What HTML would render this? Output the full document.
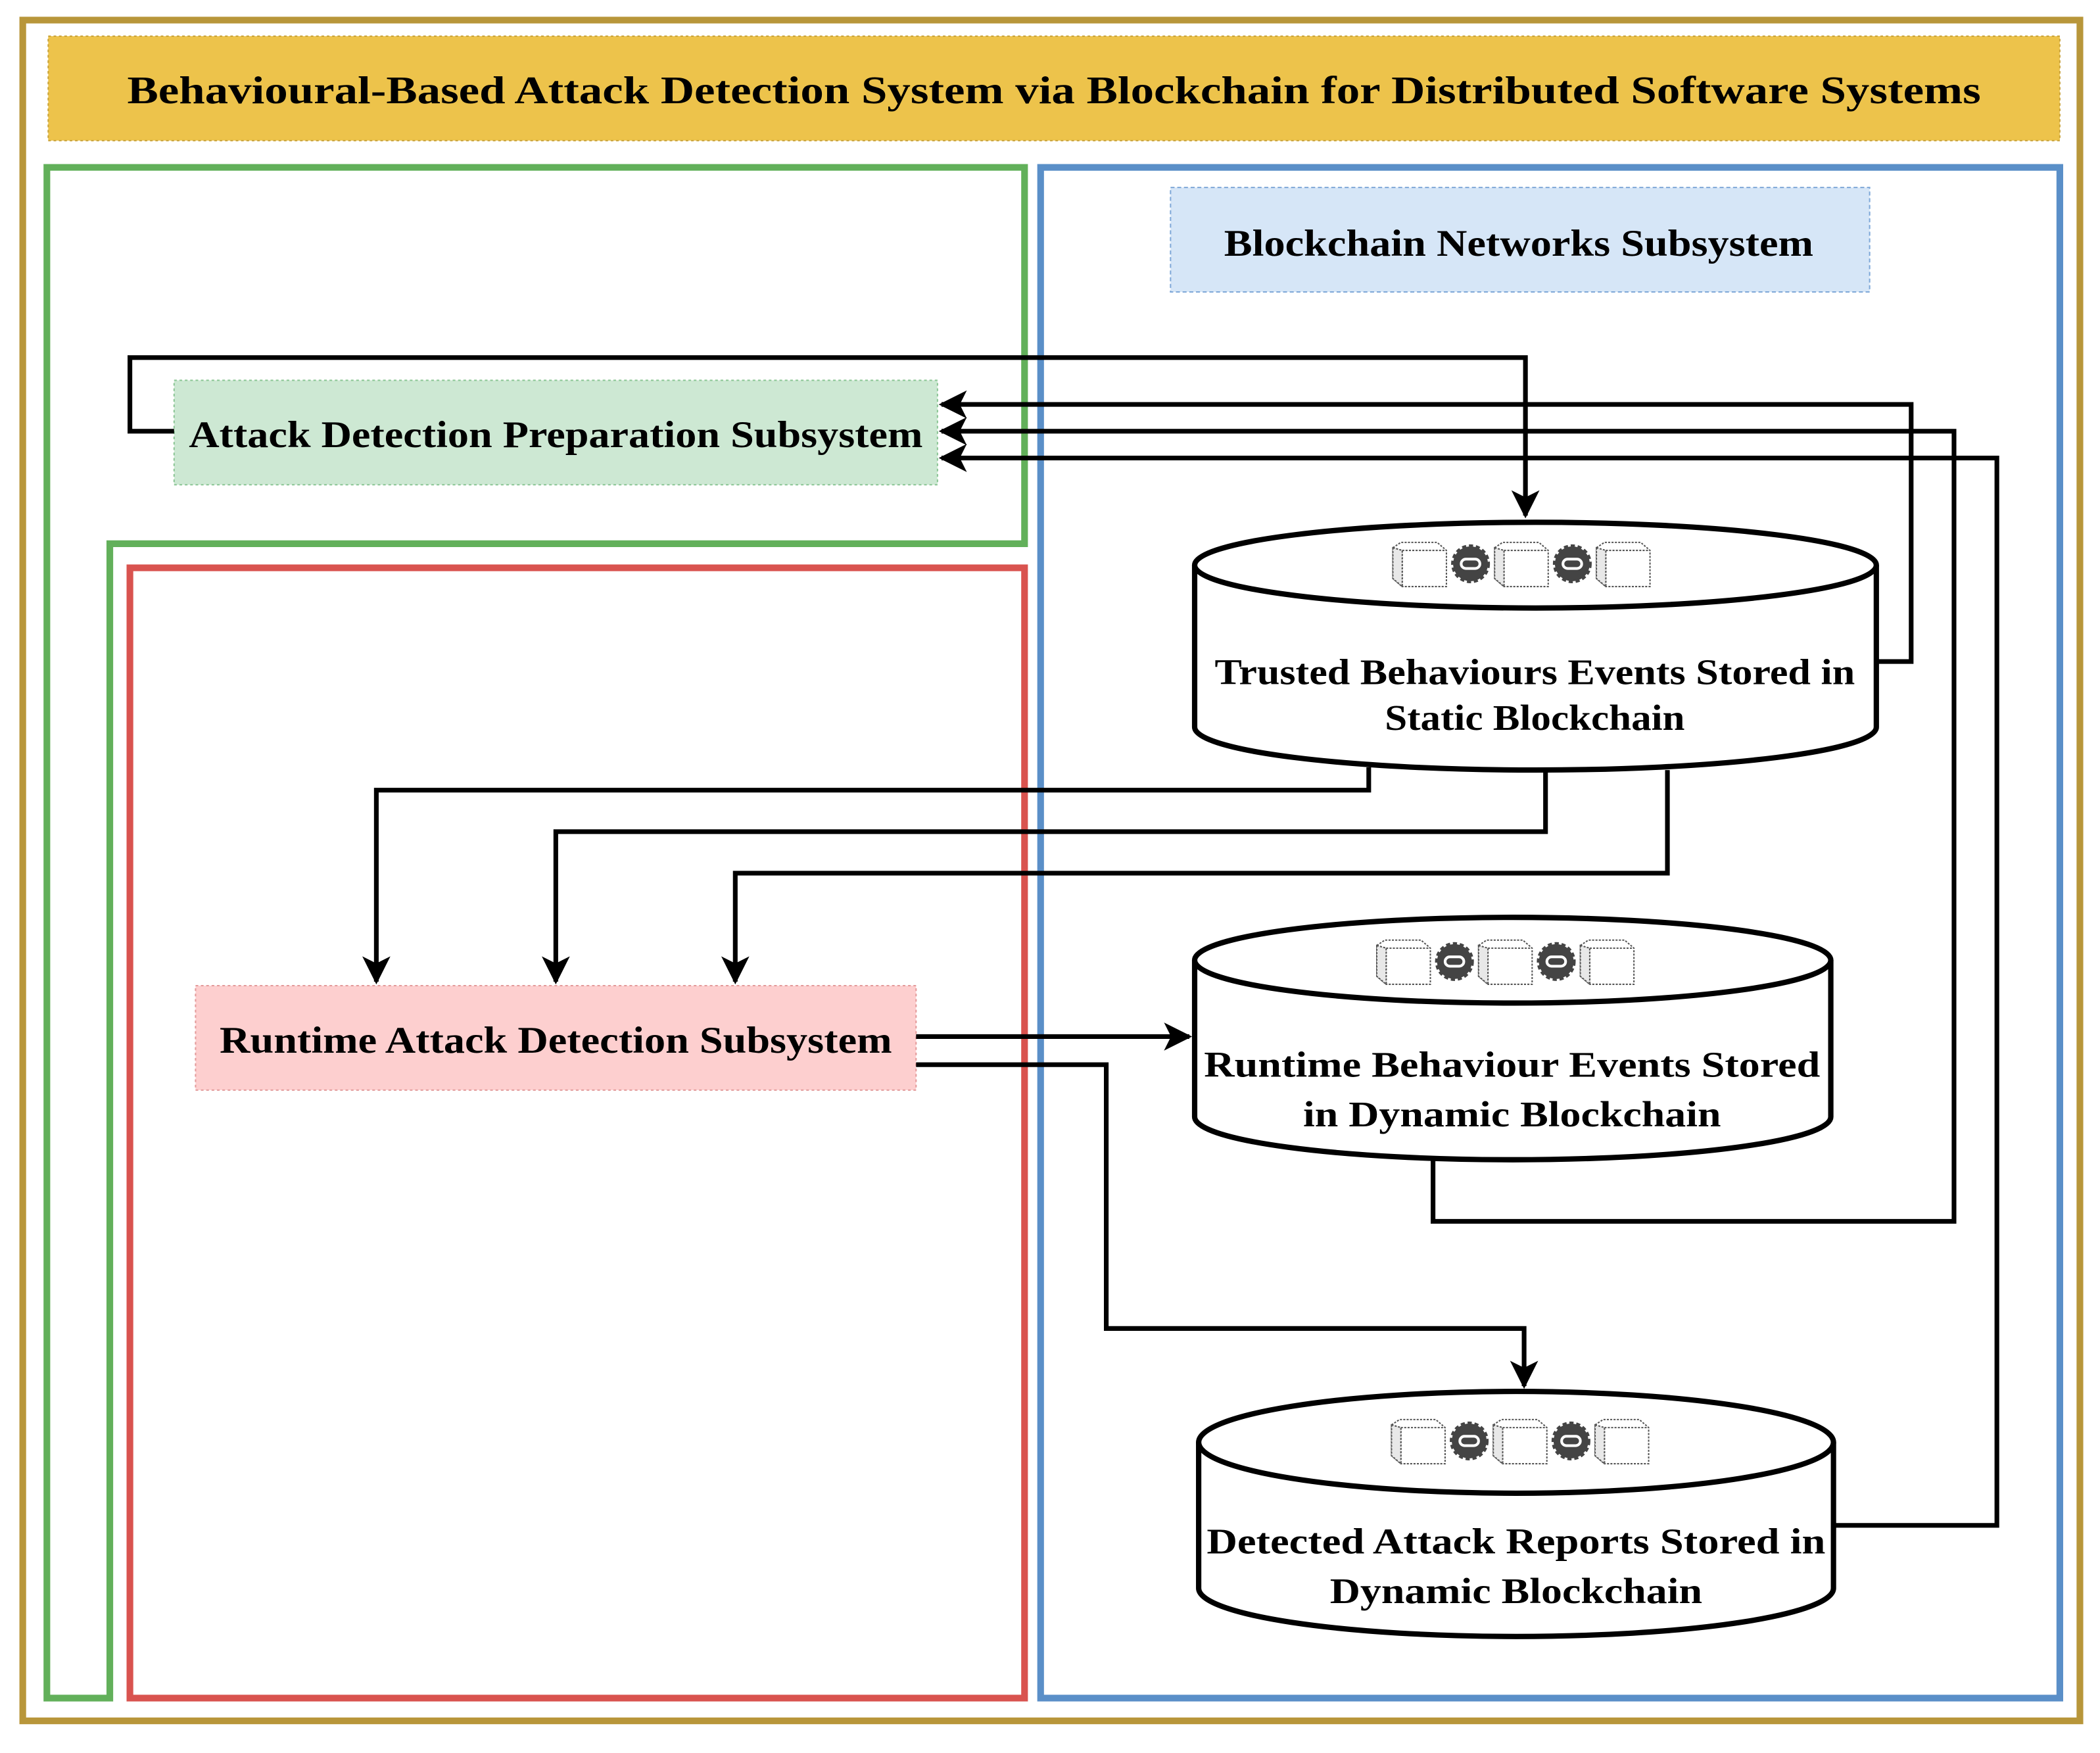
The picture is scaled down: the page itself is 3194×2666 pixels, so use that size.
<!DOCTYPE html>
<html><head><meta charset="utf-8"><style>html,body{margin:0;padding:0;background:#fff}svg{display:block}</style></head>
<body>
<svg width="3194" height="2666" viewBox="0 0 1568 1309" preserveAspectRatio="none" xmlns="http://www.w3.org/2000/svg" font-family="'Liberation Serif', serif" font-weight="bold">
<defs>
<marker id="ar" viewBox="0 0 20 20" refX="18" refY="10" markerWidth="6" markerHeight="6" markerUnits="strokeWidth" orient="auto">
<path d="M0,0 L20,10 L0,20 L5,10 Z" fill="#000"/>
</marker>
<g id="chain">
<g fill="#fff" stroke="#555" stroke-width="1" stroke-dasharray="1.5,1">
<path d="M0,4 L6,0 L33,0 L40,6 L40,33 L7,33 L0,27 Z"/>
<path d="M7,6 L40,6 M7,6 L7,33 M0,4 L7,6" fill="none"/>
<path d="M0,4 L7,6 L7,33 L0,27 Z" fill="#e8e8e8"/>
</g>
<g transform="translate(58,16)"><circle r="13" fill="#444" stroke="#444" stroke-width="3" stroke-dasharray="3,2"/><rect x="-7" y="-3.5" width="14" height="7" rx="3.5" fill="none" stroke="#fff" stroke-width="2"/></g>
<g transform="translate(76,0)" fill="#fff" stroke="#555" stroke-width="1" stroke-dasharray="1.5,1">
<path d="M0,4 L6,0 L33,0 L40,6 L40,33 L7,33 L0,27 Z"/>
<path d="M7,6 L40,6 M7,6 L7,33" fill="none"/>
<path d="M0,4 L7,6 L7,33 L0,27 Z" fill="#e8e8e8"/>
</g>
<g transform="translate(134,16)"><circle r="13" fill="#444" stroke="#444" stroke-width="3" stroke-dasharray="3,2"/><rect x="-7" y="-3.5" width="14" height="7" rx="3.5" fill="none" stroke="#fff" stroke-width="2"/></g>
<g transform="translate(152,0)" fill="#fff" stroke="#555" stroke-width="1" stroke-dasharray="1.5,1">
<path d="M0,4 L6,0 L33,0 L40,6 L40,33 L7,33 L0,27 Z"/>
<path d="M7,6 L40,6 M7,6 L7,33" fill="none"/>
<path d="M0,4 L7,6 L7,33 L0,27 Z" fill="#e8e8e8"/>
</g>
</g>
</defs>
<rect x="17" y="15" width="1536" height="1270" fill="none" stroke="#b8963a" stroke-width="5"/>
<rect x="36" y="27" width="1502" height="78" fill="#edc34b" stroke="#c9a33a" stroke-width="1" stroke-dasharray="2,2"/>
<text x="787" y="77" font-size="29" text-anchor="middle" textLength="1384" lengthAdjust="spacingAndGlyphs">Behavioural-Based Attack Detection System via Blockchain for Distributed Software Systems</text>
<path d="M35,125 L765,125 L765,406 L82,406 L82,1268 L35,1268 Z" fill="none" stroke="#62b05a" stroke-width="5"/>
<rect x="97" y="424" width="668" height="844" fill="none" stroke="#d9534f" stroke-width="5"/>
<rect x="777" y="125" width="761" height="1143" fill="none" stroke="#5a8fc8" stroke-width="5"/>
<rect x="874" y="140" width="522" height="78" fill="#d6e6f7" stroke="#7fa8d8" stroke-width="1" stroke-dasharray="3,2"/>
<text x="1134" y="191" font-size="28" text-anchor="middle" textLength="440" lengthAdjust="spacingAndGlyphs">Blockchain Networks Subsystem</text>
<rect x="130" y="284" width="570" height="78" fill="#cde8d3" stroke="#8ac594" stroke-width="1" stroke-dasharray="2,2"/>
<text x="415" y="334" font-size="28" text-anchor="middle" textLength="548" lengthAdjust="spacingAndGlyphs">Attack Detection Preparation Subsystem</text>
<rect x="146" y="736" width="538" height="78" fill="#fdcfcf" stroke="#e39a9a" stroke-width="1" stroke-dasharray="2,2"/>
<text x="415" y="786" font-size="28" text-anchor="middle" textLength="502" lengthAdjust="spacingAndGlyphs">Runtime Attack Detection Subsystem</text>
<g fill="none" stroke="#000" stroke-width="3.5">
<polyline points="130,322 97,322 97,267 1139,267 1139,385" marker-end="url(#ar)"/>
<polyline points="1401,494 1427,494 1427,302 703,302" marker-end="url(#ar)"/>
<polyline points="1070,866 1070,912 1459,912 1459,322 703,322" marker-end="url(#ar)"/>
<polyline points="1369,1139 1491,1139 1491,342 703,342" marker-end="url(#ar)"/>
<polyline points="1022,573 1022,590 281,590 281,733" marker-end="url(#ar)"/>
<polyline points="1154,574 1154,621 415,621 415,733" marker-end="url(#ar)"/>
<polyline points="1245,575 1245,652 549,652 549,733" marker-end="url(#ar)"/>
<polyline points="684,774 888,774" marker-end="url(#ar)"/>
<polyline points="684,795 826,795 826,992 1138,992 1138,1035" marker-end="url(#ar)"/>
</g>
<g stroke="#000" stroke-width="4" fill="#fff">
<path d="M892,422 L892,543 A254.5,32 0 0 0 1401,543 L1401,422"/>
<ellipse cx="1146.5" cy="422" rx="254.5" ry="32"/>
<path d="M892,717 L892,834 A237.5,32 0 0 0 1367,834 L1367,717"/>
<ellipse cx="1129.5" cy="717" rx="237.5" ry="32"/>
<path d="M895,1077 L895,1186 A237,36 0 0 0 1369,1186 L1369,1077"/>
<ellipse cx="1132" cy="1077" rx="237" ry="38"/>
</g>
<use href="#chain" x="1040" y="405"/>
<use href="#chain" x="1028" y="702"/>
<use href="#chain" x="1039" y="1060"/>
<g font-size="27" text-anchor="middle">
<text x="1146" y="511" textLength="478" lengthAdjust="spacingAndGlyphs">Trusted  Behaviours Events Stored in</text>
<text x="1146" y="545" textLength="224" lengthAdjust="spacingAndGlyphs">Static Blockchain</text>
<text x="1129" y="804" textLength="460" lengthAdjust="spacingAndGlyphs">Runtime Behaviour Events Stored</text>
<text x="1129" y="841" textLength="312" lengthAdjust="spacingAndGlyphs">in Dynamic Blockchain</text>
<text x="1132" y="1160" textLength="462" lengthAdjust="spacingAndGlyphs">Detected Attack Reports Stored in</text>
<text x="1132" y="1197" textLength="278" lengthAdjust="spacingAndGlyphs">Dynamic Blockchain</text>
</g>
</svg>
</body></html>
